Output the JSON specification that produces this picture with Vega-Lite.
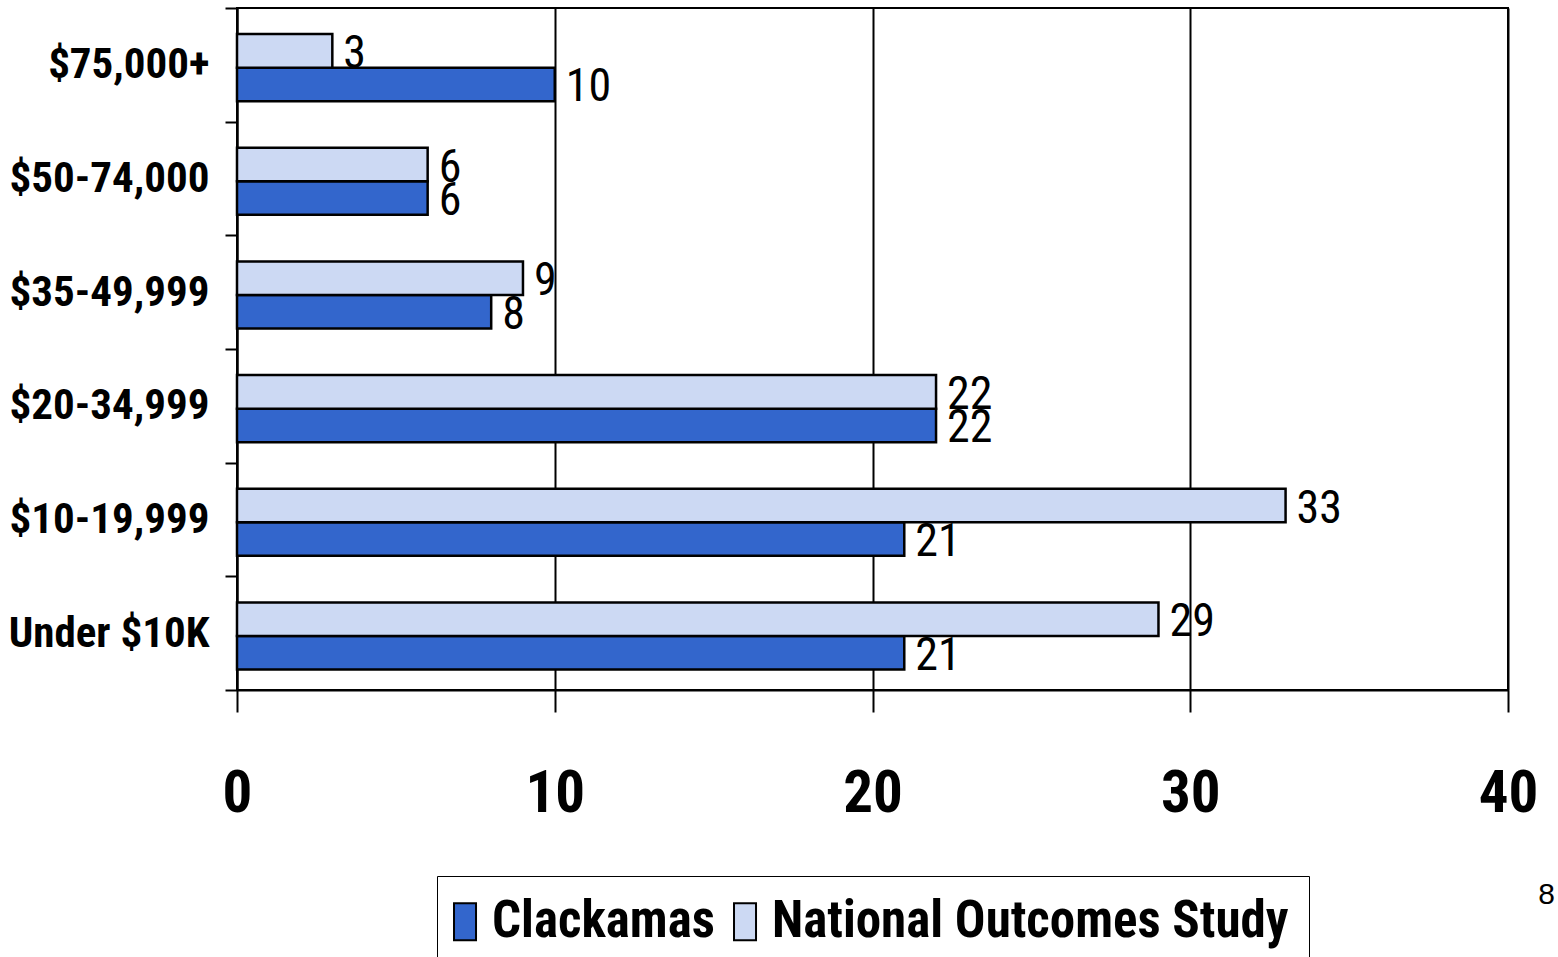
{
  "$schema": "https://vega.github.io/schema/vega-lite/v6.json",
  "width": 1271,
  "height": 682,
  "autosize": {"type": "none"},
  "padding": {"left": 237, "top": 8, "right": 50, "bottom": 267},
  "background": "white",
  "config": {
    "font": "Roboto Condensed, DejaVu Sans Condensed, sans-serif",
    "view": {"stroke": "black", "strokeWidth": 2}
  },
  "title": {
    "text": "8",
    "orient": "right",
    "anchor": "start",
    "angle": 0,
    "align": "center",
    "baseline": "middle",
    "font": "Liberation Sans, Arial, sans-serif",
    "fontSize": 30,
    "fontWeight": "normal",
    "color": "black",
    "offset": -8,
    "dy": 908
  },
  "data": {
    "values": [
      {"income": "$75,000+", "series": "Clackamas", "value": 10},
      {"income": "$75,000+", "series": "National Outcomes Study", "value": 3},
      {"income": "$50-74,000", "series": "Clackamas", "value": 6},
      {"income": "$50-74,000", "series": "National Outcomes Study", "value": 6},
      {"income": "$35-49,999", "series": "Clackamas", "value": 8},
      {"income": "$35-49,999", "series": "National Outcomes Study", "value": 9},
      {"income": "$20-34,999", "series": "Clackamas", "value": 22},
      {"income": "$20-34,999", "series": "National Outcomes Study", "value": 22},
      {"income": "$10-19,999", "series": "Clackamas", "value": 21},
      {"income": "$10-19,999", "series": "National Outcomes Study", "value": 33},
      {"income": "Under $10K", "series": "Clackamas", "value": 21},
      {"income": "Under $10K", "series": "National Outcomes Study", "value": 29}
    ]
  },
  "encoding": {
    "y": {
      "field": "income",
      "type": "nominal",
      "sort": ["$75,000+", "$50-74,000", "$35-49,999", "$20-34,999", "$10-19,999", "Under $10K"],
      "scale": {"paddingInner": 0, "paddingOuter": 0},
      "axis": {
        "title": null,
        "tickBand": "extent",
        "tickSize": 12,
        "tickColor": "black",
        "tickWidth": 2,
        "domainColor": "black",
        "domainWidth": 2,
        "labelFontSize": 43,
        "labelFontWeight": "bold",
        "labelColor": "black",
        "labelPadding": 16,
        "labelLimit": 400
      }
    },
    "yOffset": {
      "field": "series",
      "type": "nominal",
      "sort": ["National Outcomes Study", "Clackamas"],
      "scale": {"paddingInner": 0, "paddingOuter": 0.696, "align": 0.56}
    },
    "x": {
      "field": "value",
      "type": "quantitative",
      "scale": {"domain": [0, 40], "nice": false},
      "axis": {
        "title": null,
        "values": [0, 10, 20, 30, 40],
        "grid": true,
        "gridColor": "black",
        "gridWidth": 2,
        "gridOpacity": 1,
        "tickSize": 22,
        "tickColor": "black",
        "tickWidth": 2,
        "domainColor": "black",
        "domainWidth": 2,
        "labelFontSize": 59,
        "labelFontWeight": "bold",
        "labelColor": "black",
        "labelPadding": 52,
        "labelFlush": false
      }
    }
  },
  "layer": [
    {
      "mark": {"type": "bar", "stroke": "black", "strokeWidth": 2.5},
      "encoding": {
        "color": {
          "field": "series",
          "type": "nominal",
          "scale": {"domain": ["Clackamas", "National Outcomes Study"], "range": ["#3366CC", "#CCD9F3"]},
          "legend": {
            "title": null,
            "orient": "none",
            "direction": "horizontal",
            "legendX": 200,
            "legendY": 868,
            "labelFontSize": 51,
            "labelFontWeight": "bold",
            "labelColor": "black",
            "labelOffset": -16,
            "labelLimit": 800,
            "columnPadding": 15,
            "symbolType": "M-1.54,-1H-0.35V1H-1.54Z",
            "symbolSize": 1369,
            "symbolStrokeColor": "black",
            "symbolStrokeWidth": 2,
            "symbolOpacity": 1,
            "strokeColor": "black",
            "padding": 20,
            "fillColor": "white"
          }
        }
      }
    },
    {
      "mark": {"type": "text", "align": "left", "baseline": "middle", "dx": 11, "dy": 3, "fontSize": 46, "color": "black"},
      "encoding": {
        "text": {"field": "value", "type": "quantitative"}
      }
    }
  ]
}
